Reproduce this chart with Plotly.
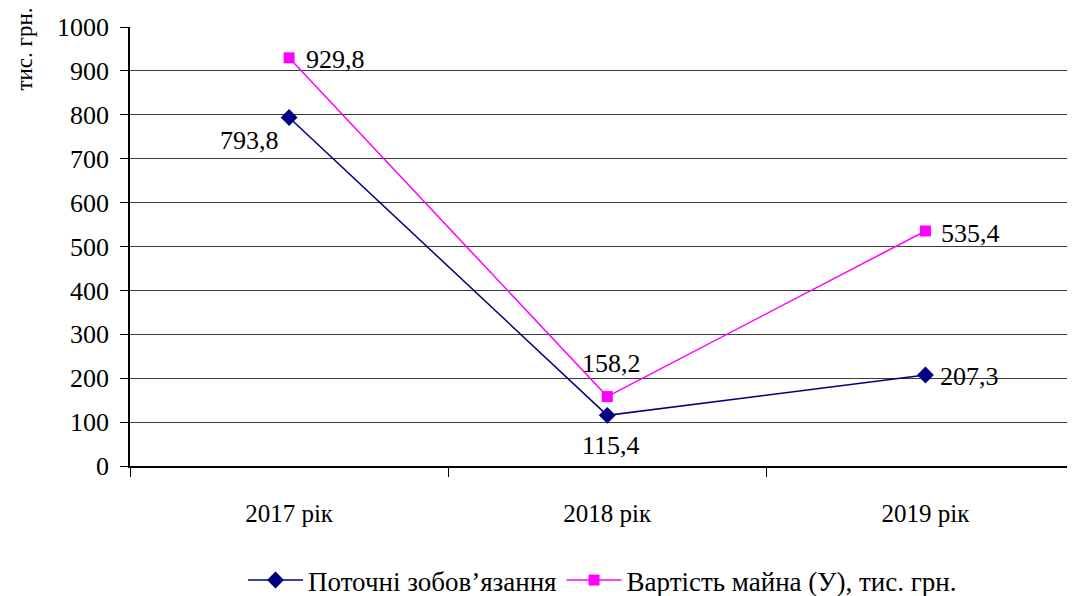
import plotly.graph_objects as go

categories = ["2017 рік", "2018 рік", "2019 рік"]
liabilities = [793.8, 115.4, 207.3]
property_value = [929.8, 158.2, 535.4]
series_names = ["Поточні зобов’язання", "Вартість майна (У), тис. грн."]
y_title = "тис. грн."

def fmt(v):
    return f"{v:.1f}".replace(".", ",")

FONT = "Liberation Serif"

fig = go.Figure()
fig.add_trace(go.Scatter(
    x=categories, y=liabilities, name=series_names[0],
    mode="lines+markers",
    line=dict(color="#000080", width=1.5),
    marker=dict(symbol="diamond", size=13, color="#000080"),
    cliponaxis=False,
))
fig.add_trace(go.Scatter(
    x=categories, y=property_value, name=series_names[1],
    mode="lines+markers",
    line=dict(color="#FF00FF", width=1.5),
    marker=dict(symbol="square", size=11, color="#FF00FF"),
    cliponaxis=False,
))

# data labels (style: anchor + pixel offsets)
lab_style_1 = [("right", -8, -23), ("center", 4, -30), ("left", 13, -1)]
lab_style_2 = [("left", 15, -2), ("center", 4, 33), ("left", 14, -3)]
for vals, styles in ((liabilities, lab_style_1), (property_value, lab_style_2)):
    for cat, v, (anc, dx, dy) in zip(categories, vals, styles):
        fig.add_annotation(
            x=cat, y=v, xref="x", yref="y", text=fmt(v), showarrow=False,
            xanchor=anc, yanchor="middle", xshift=dx, yshift=dy,
            font=dict(family=FONT, size=26, color="black"),
        )

fig.add_annotation(
    text=y_title, xref="paper", yref="paper", x=0, y=1,
    xanchor="center", yanchor="top", xshift=-106, yshift=21,
    textangle=-90, showarrow=False,
    font=dict(family=FONT, size=23, color="black"),
)

# page body has an 8px margin, so the figure is 8px smaller than the window
fig.update_layout(
    width=1067, height=588,
    margin=dict(l=122, r=0, t=19, b=130, autoexpand=False),
    paper_bgcolor="white", plot_bgcolor="white",
    font=dict(family=FONT, size=26, color="black"),
    showlegend=True,
    legend=dict(orientation="h", x=0.5, xanchor="center", xref="paper",
                y=-0.205, yanchor="top", font=dict(family=FONT, size=27),
                itemwidth=55, tracegroupgap=0),
)
fig.update_xaxes(
    type="category", range=[-0.5, 2.47], automargin=False,
    showline=True, linecolor="black", linewidth=1.5,
    ticks="outside", tickson="boundaries", ticklen=9, tickcolor="black",
    showgrid=False, tickfont=dict(family=FONT, size=25), ticklabelstandoff=24,
)
fig.update_yaxes(
    range=[0, 1000], dtick=100, automargin=False,
    showline=True, linecolor="black", linewidth=1.5,
    ticks="outside", ticklen=8, tickcolor="black",
    showgrid=True, gridcolor="#3a3a3a", gridwidth=1,
    zeroline=False, tickfont=dict(family=FONT, size=26), ticklabelstandoff=6,
)

fig.write_html("out.html")
